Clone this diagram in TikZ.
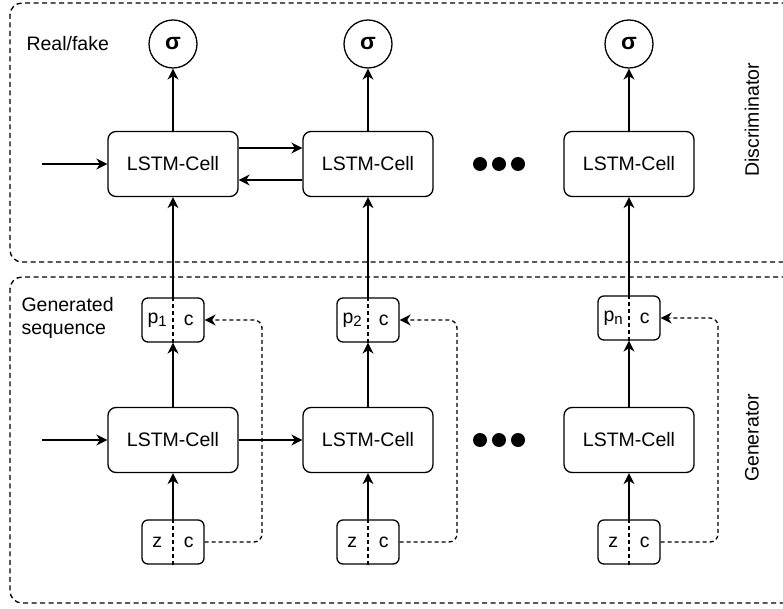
\documentclass[tikz,border=0pt]{standalone}
\usepackage{fontspec}
\setmainfont{Liberation Sans}
\usetikzlibrary{arrows.meta,calc}
\newcommand{\idx}[1]{\raisebox{-0.3ex}{\fontsize{15}{15}\selectfont #1}}
\begin{document}
\begin{tikzpicture}[x=1pt,y=-1pt,
  font=\fontsize{19.5}{23}\selectfont,
  tip/.style={-{Stealth[length=11pt,width=11pt,inset=3.5pt]}},
  conn/.style={line width=1.3pt,tip},
  fbline/.style={line width=1.3pt,tip,dash pattern=on 4pt off 3pt,rounded corners=8pt},
  area/.style={line width=1.3pt,dash pattern=on 5pt off 3.5pt,rounded corners=12pt},
  cell/.style={draw,line width=1.3pt,rounded corners=8pt,minimum width=130pt,minimum height=65pt,inner sep=0pt},
  sig/.style={draw,circle,line width=1.3pt,minimum size=48pt,inner sep=0pt,font=\fontsize{23}{26}\selectfont\bfseries},
  split/.style={draw,line width=1.3pt,rounded corners=6pt,minimum width=62pt,minimum height=44pt,inner sep=0pt},
  dot/.style={fill,circle,minimum size=14pt,inner sep=0pt},
  divider/.style={line width=1.3pt,dash pattern=on 4pt off 3pt}
]
\useasboundingbox (0,0) rectangle (783,609);
\clip (0,0) rectangle (783,609);

% dashed frames of the two networks
\draw[area] (795,3) -- (10,3) -- (10,262) -- (795,262);
\draw[area] (795,277) -- (10,277) -- (10,603) -- (795,603);

% section labels
\node[anchor=west] (lreal) at (23,44) {Real/fake};
\node[anchor=west,align=left] (lgen) at (18,318) {Generated\\sequence};
\node[rotate=90] (ldisc) at (752,120) {Discriminator};
\node[rotate=90] (lgenr) at (752,438) {Generator};

% discriminator row
\node[sig] (s1) at (173,44) {σ};
\node[sig] (s2) at (368,44) {σ};
\node[sig] (s3) at (629,44) {σ};
\node[cell] (d1) at (173,164) {LSTM-Cell};
\node[cell] (d2) at (368,164) {LSTM-Cell};
\node[cell] (d3) at (629,164) {LSTM-Cell};
\node[dot] (dd1) at (480,164) {};
\node[dot] (dd2) at (499,164) {};
\node[dot] (dd3) at (518,164) {};

% generated sequence boxes
\node[split] (p1) at (173,320) {};
\node[split] (p2) at (368,320) {};
\node[split] (p3) at (629,318) {};
\foreach \b/\t in {p1/p\idx{1}, p2/p\idx{2}, p3/p\idx{n}} {
  \draw[divider] (\b.north) -- (\b.south);
  \node (\b l) at ($(\b.west)!0.5!(\b.center)$) {\t};
  \node (\b r) at ($(\b.east)!0.5!(\b.center)$) {c};
}

% generator row
\node[cell] (g1) at (173,440) {LSTM-Cell};
\node[cell] (g2) at (368,440) {LSTM-Cell};
\node[cell] (g3) at (629,440) {LSTM-Cell};
\node[dot] (gd1) at (480,440) {};
\node[dot] (gd2) at (499,440) {};
\node[dot] (gd3) at (518,440) {};

% noise + condition inputs
\node[split] (z1) at (173,542) {};
\node[split] (z2) at (368,542) {};
\node[split] (z3) at (629,542) {};
\foreach \b in {z1,z2,z3} {
  \draw[divider] (\b.north) -- (\b.south);
  \node (\b l) at ($(\b.west)!0.5!(\b.center)$) {z};
  \node (\b r) at ($(\b.east)!0.5!(\b.center)$) {c};
}

% free ends and bends
\coordinate (din) at (42,164);
\coordinate (gin) at (42,440);
\coordinate (f1) at (262,320);
\coordinate (f2) at (457,320);
\coordinate (f3) at (718,318);

% discriminator connections (forward above, backward below)
\draw[conn] (din) -- (d1.west);
\draw[conn] ([yshift=16pt]d1.east) -- ([yshift=16pt]d2.west);
\draw[conn] ([yshift=-16pt]d2.west) -- ([yshift=-16pt]d1.east);
\foreach \i in {1,2,3} {
  \draw[conn] (d\i.north) -- (s\i.south);
  \draw[conn] (p\i.north) -- (d\i.south);
  \draw[conn] (g\i.north) -- (p\i.south);
  \draw[conn] (z\i.north) -- (g\i.south);
}

% generator connections
\draw[conn] (gin) -- (g1.west);
\draw[conn] (g1.east) -- (g2.west);

% condition fed forward to the generated sequence
\draw[fbline] (z1.east) -| (f1) -- (p1.east);
\draw[fbline] (z2.east) -| (f2) -- (p2.east);
\draw[fbline] (z3.east) -| (f3) -- (p3.east);
\end{tikzpicture}
\end{document}
